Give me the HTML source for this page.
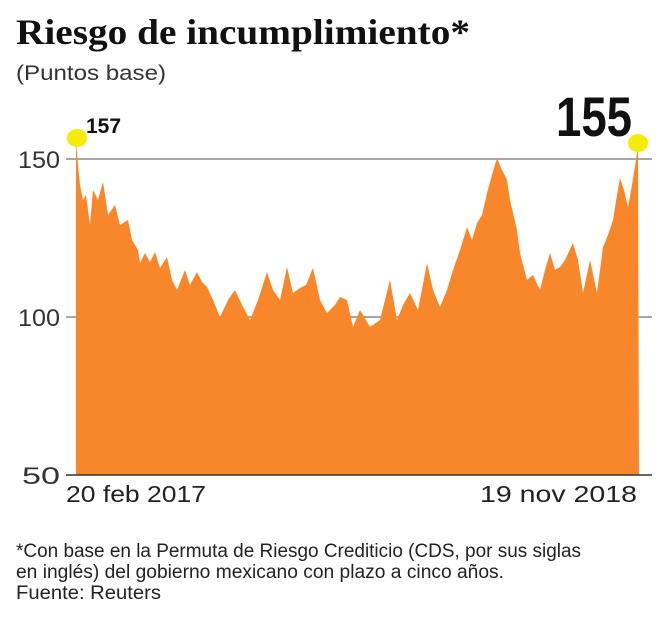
<!DOCTYPE html>
<html><head><meta charset="utf-8"><style>
body{margin:0;background:#fff;width:667px;height:620px;overflow:hidden;font-family:"Liberation Sans",sans-serif}
</style></head><body>
<svg width="667" height="620" viewBox="0 0 667 620" xmlns="http://www.w3.org/2000/svg">
<text x="16" y="44" font-family="Liberation Serif" font-weight="bold" font-size="36" fill="#111" textLength="454" lengthAdjust="spacingAndGlyphs">Riesgo de incumplimiento*</text>
<text x="16" y="80" font-size="21" fill="#333" textLength="150" lengthAdjust="spacingAndGlyphs">(Puntos base)</text>
<g stroke="#888" stroke-width="1.5">
<line x1="66" y1="159" x2="652" y2="159"/>
<line x1="66" y1="317" x2="652" y2="317"/>
</g>
<text x="18" y="168" font-size="24" fill="#333" textLength="42" lengthAdjust="spacingAndGlyphs">150</text>
<text x="18" y="326" font-size="24" fill="#333" textLength="42" lengthAdjust="spacingAndGlyphs">100</text>
<text x="22" y="484" font-size="24" fill="#333" textLength="38" lengthAdjust="spacingAndGlyphs">50</text>
<polygon fill="#F8872B" points="76,475 76,140 78,165 80,185 83,200 86,195 90,225 93,190 98,200 103,182 108,215 115,205 120,225 128,220 132,240 138,250 140,263 145,253 150,262 155,252 160,268 167,257 172,280 177,290 185,270 190,285 197,272 202,282 207,287 213,300 220,317 228,300 235,290 242,305 250,320 258,300 267,272 273,290 280,300 287,267 293,293 300,288 306,285 313,268 320,300 327,313 335,305 340,297 347,300 353,327 360,310 370,327 380,320 390,280 397,320 403,305 410,293 418,310 427,263 433,290 440,307 447,290 453,270 460,250 467,227 472,240 477,223 482,215 487,193 492,175 497,158 502,170 507,180 510,200 513,213 517,230 520,253 527,280 533,275 540,290 545,270 550,253 555,270 560,267 565,260 573,243 578,260 583,293 590,260 597,293 603,247 608,235 613,220 617,195 620,178 624,190 628,207 632,185 636,160 638,145 639,475"/>
<line x1="66" y1="475" x2="652" y2="475" stroke="#333" stroke-width="1.5"/>
<ellipse cx="77" cy="138" rx="10" ry="9" fill="#F5EB08"/>
<ellipse cx="638" cy="143" rx="10" ry="9" fill="#F5EB08"/>
<text x="86" y="133" font-weight="bold" font-size="21" fill="#111">157</text>
<text x="556" y="136" font-weight="bold" font-size="56" fill="#111" textLength="76" lengthAdjust="spacingAndGlyphs">155</text>
<text x="66" y="502" font-size="23" fill="#222" textLength="140" lengthAdjust="spacingAndGlyphs">20 feb 2017</text>
<text x="480" y="502" font-size="23" fill="#222" textLength="157" lengthAdjust="spacingAndGlyphs">19 nov 2018</text>
<text x="16" y="557" font-size="19" fill="#222" textLength="565" lengthAdjust="spacingAndGlyphs">*Con base en la Permuta de Riesgo Crediticio (CDS, por sus siglas</text>
<text x="16" y="578" font-size="19" fill="#222" textLength="488" lengthAdjust="spacingAndGlyphs">en inglés) del gobierno mexicano con plazo a cinco años.</text>
<text x="16" y="599" font-size="19" fill="#222" textLength="145" lengthAdjust="spacingAndGlyphs">Fuente: Reuters</text>
</svg>
</body></html>
